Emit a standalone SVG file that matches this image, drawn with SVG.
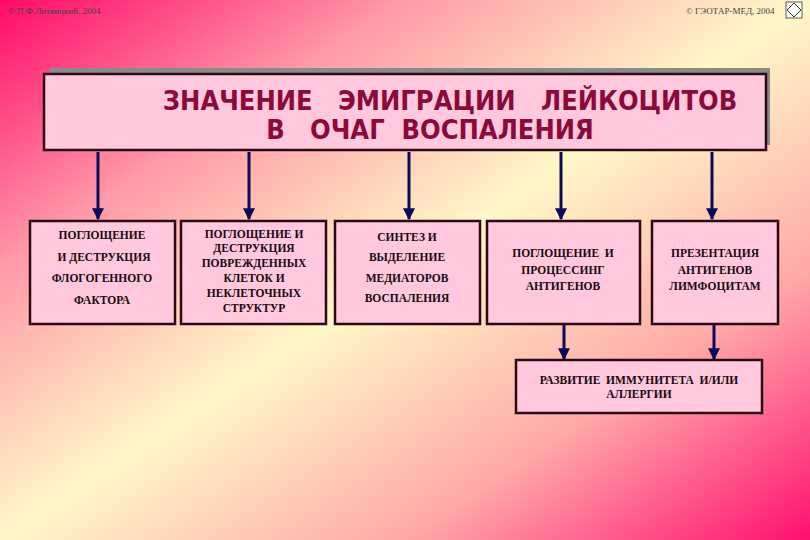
<svg xmlns="http://www.w3.org/2000/svg" width="810" height="540" viewBox="0 0 810 540">
<defs>
<linearGradient id="bg" x1="0" y1="0" x2="1" y2="1">
<stop offset="0" stop-color="#ff0a6a"/>
<stop offset="0.25" stop-color="#ff9aa8"/>
<stop offset="0.5" stop-color="#fff8c8"/>
<stop offset="0.75" stop-color="#ffa8a8"/>
<stop offset="1" stop-color="#ff1070"/>
</linearGradient>
<marker id="ah" viewBox="0 0 10 10" refX="9" refY="5" markerWidth="4" markerHeight="4" orient="auto" markerUnits="strokeWidth">
<path d="M0,0 L10,5 L0,10 z" fill="#0a0a5a"/>
</marker>
<style>
text{white-space:pre}
.box{fill:#ffc8dc;stroke:#2a0a14;stroke-width:2.5}
.t{font-family:"Liberation Serif",serif;font-weight:bold;font-size:11.5px;fill:#1a0a10;text-anchor:middle}
.title{font-family:"DejaVu Sans Condensed","DejaVu Sans",sans-serif;font-weight:bold;font-size:27px;fill:#8b0a3a;text-anchor:middle}
.c{stroke:#0a0a5a;stroke-width:3;fill:none;marker-end:url(#ah)}
.cp{font-family:"Liberation Serif",serif;font-size:9px;fill:#444}
</style>
</defs>
<rect width="810" height="540" fill="url(#bg)"/>
<text class="cp" x="8" y="14">© П.Ф.Литвицкий, 2004</text>
<text class="cp" x="686" y="14">© ГЭОТАР-МЕД, 2004</text>
<g id="logo"><rect x="786" y="2" width="16" height="16" fill="#fff" stroke="#333" stroke-width="0.8"/><path d="M794,3 L801,10 L794,17 L787,10 Z" fill="none" stroke="#333"/></g>
<g id="title">
<rect x="50" y="68" width="720" height="77" fill="#8a8a8a"/>
<rect x="44" y="74" width="722" height="76" class="box" stroke-width="3"/>
<text class="title" x="450" y="110" xml:space="preserve">ЗНАЧЕНИЕ   ЭМИГРАЦИИ   ЛЕЙКОЦИТОВ</text>
<text class="title" x="430" y="139" xml:space="preserve">В   ОЧАГ  ВОСПАЛЕНИЯ</text>
</g>
<g id="connectors">
<line class="c" x1="98" y1="152" x2="98" y2="219"/>
<line class="c" x1="249" y1="152" x2="249" y2="219"/>
<line class="c" x1="409" y1="152" x2="409" y2="219"/>
<line class="c" x1="561" y1="152" x2="561" y2="219"/>
<line class="c" x1="712" y1="152" x2="712" y2="219"/>
<line class="c" x1="564" y1="325" x2="564" y2="359"/>
<line class="c" x1="714" y1="325" x2="714" y2="359"/>
</g>
<g id="n1"><rect class="box" x="30" y="221" width="145" height="103"/>
<text class="t" x="102" y="239">ПОГЛОЩЕНИЕ</text>
<text class="t" x="104" y="261">И ДЕСТРУКЦИЯ</text>
<text class="t" x="102" y="282">ФЛОГОГЕННОГО</text>
<text class="t" x="102" y="304">ФАКТОРА</text></g>
<g id="n2"><rect class="box" x="181" y="221" width="145" height="103"/>
<text class="t" x="254" y="238">ПОГЛОЩЕНИЕ И</text>
<text class="t" x="254" y="252">ДЕСТРУКЦИЯ</text>
<text class="t" x="254" y="267">ПОВРЕЖДЕННЫХ</text>
<text class="t" x="254" y="282">КЛЕТОК И</text>
<text class="t" x="254" y="297">НЕКЛЕТОЧНЫХ</text>
<text class="t" x="254" y="312">СТРУКТУР</text></g>
<g id="n3"><rect class="box" x="335" y="221" width="145" height="103"/>
<text class="t" x="407" y="241">СИНТЕЗ И</text>
<text class="t" x="407" y="261">ВЫДЕЛЕНИЕ</text>
<text class="t" x="407" y="282">МЕДИАТОРОВ</text>
<text class="t" x="407" y="302">ВОСПАЛЕНИЯ</text></g>
<g id="n4"><rect class="box" x="487" y="221" width="153" height="103"/>
<text class="t" x="563" y="257" xml:space="preserve">ПОГЛОЩЕНИЕ  И</text>
<text class="t" x="563" y="274">ПРОЦЕССИНГ</text>
<text class="t" x="563" y="290">АНТИГЕНОВ</text></g>
<g id="n5"><rect class="box" x="652" y="221" width="126" height="103"/>
<text class="t" x="715" y="257">ПРЕЗЕНТАЦИЯ</text>
<text class="t" x="715" y="274">АНТИГЕНОВ</text>
<text class="t" x="715" y="290">ЛИМФОЦИТАМ</text></g>
<g id="n6"><rect class="box" x="516" y="360" width="246" height="53"/>
<text class="t" x="639" y="384" xml:space="preserve">РАЗВИТИЕ  ИММУНИТЕТА  И/ИЛИ</text>
<text class="t" x="639" y="398">АЛЛЕРГИИ</text></g>
</svg>
